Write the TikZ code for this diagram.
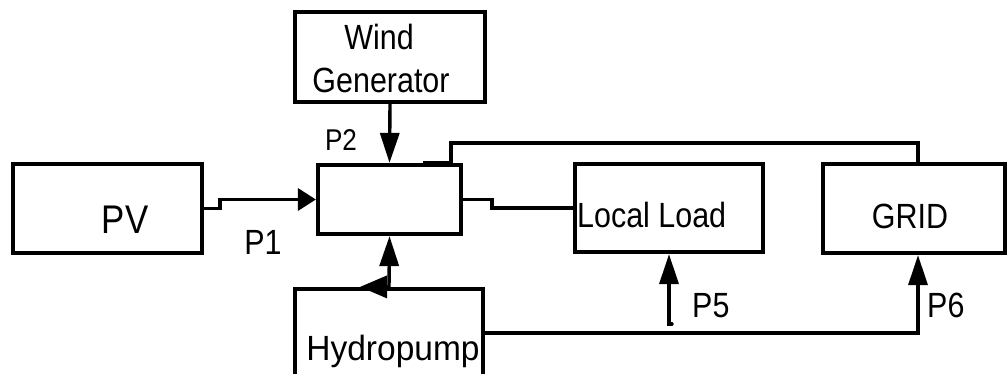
\documentclass[tikz,border=0pt]{standalone}
\usepackage{fontspec}
\setmainfont{Liberation Sans}[FakeStretch=0.87]
\usetikzlibrary{arrows.meta, positioning}

\tikzset{
  blk/.style={draw, line width=4.2pt, inner sep=0pt},
  conn/.style={line width=3.4pt},
  txt/.style={anchor=base, inner sep=0pt, font=\fontsize{35}{43}\selectfont},
}

\begin{document}
\begin{tikzpicture}[x=1pt, y=-1pt, >={Triangle[length=30pt, width=19pt]}]
        \useasboundingbox (0,0) rectangle (1008,374);
        \clip (0,0) rectangle (1008,374);
        % Blocos
        \node[blk, minimum width=189pt, minimum height=89pt]  (pv)    at (107.5,208.5) {};
        \node[blk, minimum width=143pt, minimum height=69pt]  (ctrl)  at (389.5,199.5) {};
        \node[blk, minimum width=190pt, minimum height=90pt]  (wind)  at (390,57) {};
        \node[blk, minimum width=188pt, minimum height=116pt] (hydro) at (389,347) {};
        \node[blk, minimum width=188pt, minimum height=88pt]  (load)  at (669,208) {};
        \node[blk, minimum width=182pt, minimum height=89pt]  (grid)  at (914,208.5) {};
        % Textos
        \node[txt, font=\fontsize{40}{48}\selectfont] (pvtxt) at (125,233) {PV};
        \node[txt] (windtxt)  at (379,50)  {Wind};
        \node[txt] (gentxt)   at (381,93)  {Generator};
        \node[txt] (hydrotxt) at (393,360) {\scalebox{1.1}[1]{Hydropump}};
        \node[txt, anchor=base west] (loadtxt) at (577,227) {Local Load};
        \node[txt] (gridtxt)  at (910,228) {GRID};
        % Potencias
        \node[txt] (p1) at (263,254) {P1};
        \node[txt, font=\fontsize{30}{36}\selectfont] (p2) at (341,151) {P2};
        \node[txt, anchor=base west] (p5) at (692,317) {P5};
        \node[txt, anchor=base west] (p6) at (927,317) {P6};
        % Ligacoes
        \draw[conn, -{Triangle[length=18pt, width=22pt]}] (pv.east) -- ++(16,0) |- (ctrl.west);
        \draw[conn, ->] (wind.south) -- (ctrl.north);
        \draw[conn, ->] (hydro.north) -- (ctrl.south);
        \draw[conn, -{Triangle[length=27pt, width=22pt]}] (hydro.north) -- ++(-29,0);
        \draw[conn] (ctrl.east) -- ++(29,0) |- (load.west);
        \coordinate (tap) at (423,163);
        \draw[conn] (tap) -- ++(28,0) -- ++(0,-20) -| ([xshift=4pt]grid.north);
        \draw[conn, ->] ([yshift=14pt]hydro.east) -| ([xshift=4pt]grid.south);
        \coordinate (p5tail) at (669,324);
        \draw[conn, ->, line cap=round] ([xshift=3pt]p5tail) -- (p5tail) -- (load.south);
      \end{tikzpicture}
\end{document}
